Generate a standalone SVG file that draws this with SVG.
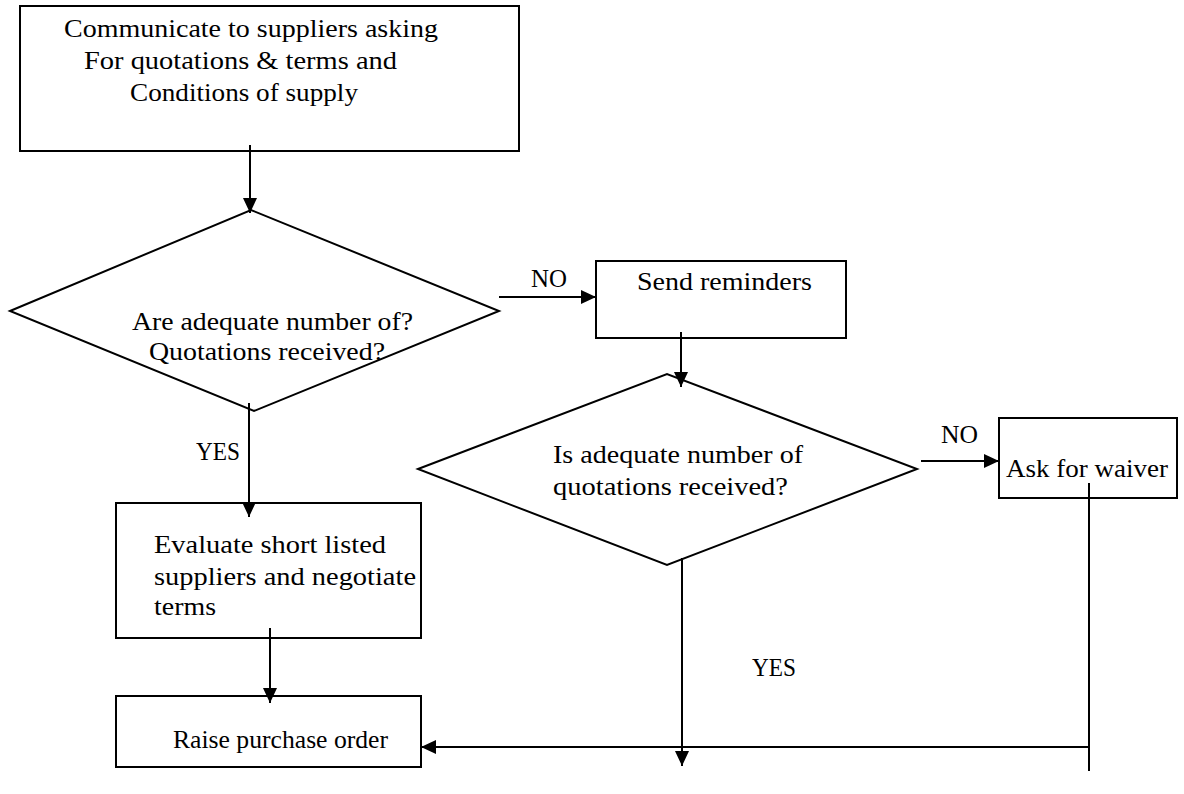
<svg xmlns="http://www.w3.org/2000/svg" width="1184" height="794" viewBox="0 0 1184 794">
  <defs>
    <style>
      .shape { fill: #ffffff; stroke: #000000; stroke-width: 2; }
      .link { fill: none; stroke: #000000; stroke-width: 2; }
      .label { font-family: "Liberation Serif", "Times New Roman", serif; font-size: 26px; fill: #000000; }
    </style>
    <marker id="arrow" markerUnits="userSpaceOnUse" markerWidth="16" markerHeight="16" refX="15" refY="7" orient="auto">
      <path d="M0,0 L15,7 L0,14 Z" fill="#000000"/>
    </marker>
  </defs>

  <rect width="1184" height="794" fill="#ffffff"/>

  <!-- Process and decision nodes -->
  <g id="node-request">
    <rect class="shape" x="20" y="6" width="499" height="145"/>
    <text class="label" x="64" y="37" textLength="374" lengthAdjust="spacingAndGlyphs">Communicate to suppliers asking</text>
    <text class="label" x="84" y="69" textLength="313" lengthAdjust="spacingAndGlyphs">For quotations &amp; terms and</text>
    <text class="label" x="130" y="101" textLength="228" lengthAdjust="spacingAndGlyphs">Conditions of supply</text>
  </g>

  <g id="node-check-quotes">
    <polygon class="shape" points="10,311 251,210 499,311 254,411"/>
    <text class="label" x="132" y="330" textLength="281" lengthAdjust="spacingAndGlyphs">Are adequate number of?</text>
    <text class="label" x="149" y="360" textLength="236" lengthAdjust="spacingAndGlyphs">Quotations received?</text>
  </g>

  <g id="node-reminders">
    <rect class="shape" x="596" y="261" width="250" height="77"/>
    <text class="label" x="637" y="290" textLength="175" lengthAdjust="spacingAndGlyphs">Send reminders</text>
  </g>

  <g id="node-recheck-quotes">
    <polygon class="shape" points="418,469 667,374 917,469 667,565"/>
    <text class="label" x="553" y="463" textLength="250" lengthAdjust="spacingAndGlyphs">Is adequate number of</text>
    <text class="label" x="553" y="495" textLength="235" lengthAdjust="spacingAndGlyphs">quotations received?</text>
  </g>

  <g id="node-waiver">
    <rect class="shape" x="999" y="418" width="178" height="80"/>
    <text class="label" x="1006" y="477" textLength="162" lengthAdjust="spacingAndGlyphs">Ask for waiver</text>
  </g>

  <g id="node-evaluate">
    <rect class="shape" x="116" y="503" width="305" height="135"/>
    <text class="label" x="154" y="553" textLength="232" lengthAdjust="spacingAndGlyphs">Evaluate short listed</text>
    <text class="label" x="154" y="585" textLength="262" lengthAdjust="spacingAndGlyphs">suppliers and negotiate</text>
    <text class="label" x="154" y="615" textLength="62" lengthAdjust="spacingAndGlyphs">terms</text>
  </g>

  <g id="node-purchase-order">
    <rect class="shape" x="116" y="696" width="305" height="71"/>
    <text class="label" x="173" y="748" textLength="215" lengthAdjust="spacingAndGlyphs">Raise purchase order</text>
  </g>

  <!-- Connectors -->
  <g id="connectors">
    <line class="link" x1="250" y1="145" x2="250" y2="213" marker-end="url(#arrow)"/>
    <line class="link" x1="499" y1="297" x2="596" y2="297" marker-end="url(#arrow)"/>
    <line class="link" x1="249" y1="403" x2="249" y2="517" marker-end="url(#arrow)"/>
    <line class="link" x1="681" y1="332" x2="681" y2="387" marker-end="url(#arrow)"/>
    <line class="link" x1="921" y1="461" x2="999" y2="461" marker-end="url(#arrow)"/>
    <line class="link" x1="270" y1="628" x2="270" y2="703" marker-end="url(#arrow)"/>
    <line class="link" x1="682" y1="558" x2="682" y2="766" marker-end="url(#arrow)"/>
    <line class="link" x1="1089" y1="483" x2="1089" y2="771"/>
    <line class="link" x1="1089" y1="747" x2="421" y2="747" marker-end="url(#arrow)"/>
  </g>

  <!-- Branch labels -->
  <g id="branch-labels">
    <text class="label" x="531" y="287" textLength="36" lengthAdjust="spacingAndGlyphs">NO</text>
    <text class="label" x="196" y="460" textLength="44" lengthAdjust="spacingAndGlyphs">YES</text>
    <text class="label" x="941" y="443" textLength="37" lengthAdjust="spacingAndGlyphs">NO</text>
    <text class="label" x="752" y="676" textLength="44" lengthAdjust="spacingAndGlyphs">YES</text>
  </g>
</svg>
